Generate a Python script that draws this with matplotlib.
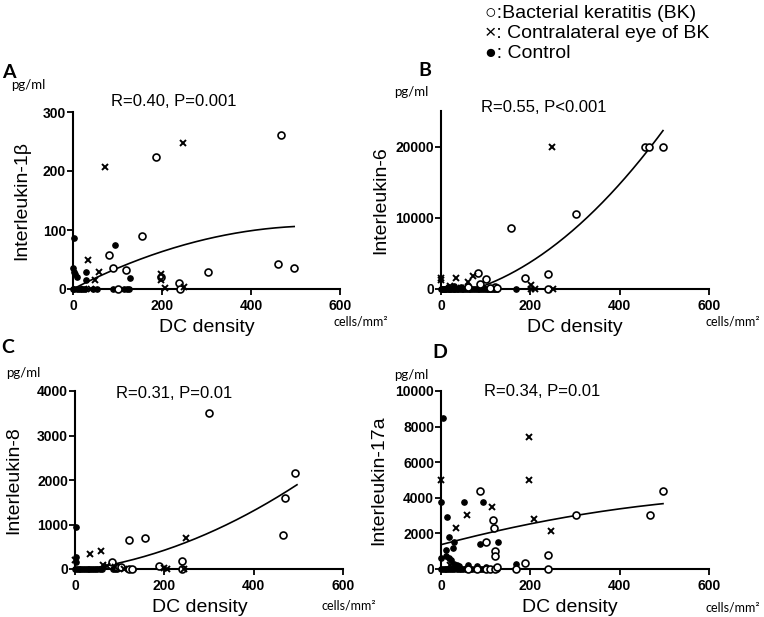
import numpy as np
import matplotlib
matplotlib.use('Agg')
import matplotlib.pyplot as plt

plt.rcParams['font.family'] = ['Liberation Sans', 'DejaVu Sans']

W, H = 764, 617

# ---------------- data ----------------
panel_letters = ['A', 'B', 'C', 'D']
ylabels = ['Interleukin-1β', 'Interleukin-6', 'Interleukin-8', 'Interleukin-17a']
stats_text = ['R=0.40, P=0.001', 'R=0.55, P<0.001', 'R=0.31, P=0.01', 'R=0.34, P=0.01']
xticks = [0, 200, 400, 600]
yticks_A = [0, 100, 200, 300]
yticks_B = [0, 10000, 20000]
yticks_C = [0, 1000, 2000, 3000, 4000]
yticks_D = [0, 2000, 4000, 6000, 8000, 10000]
ylims = [(0, 300), (0, 25000), (0, 4000), (0, 10000)]

# Panel A (IL-1beta)
bk_A_x = [467, 187, 156, 81, 89, 119, 303, 460, 497, 239, 101, 240, 197]
bk_A_y = [261, 223, 90, 58, 36, 32, 28, 43, 36, 11, 0, 0, 20]
ce_A_x = [73, 247, 34, 58, 50, 197, 197, 207, 249, 40, 25]
ce_A_y = [207, 248, 50, 29, 16, 26, 16, 2, 3, 0, 0]
ctl_A_x = [2, 94, 1, 2, 5, 29, 10, 30, 128, 0, 3, 8, 14, 18, 22, 28, 45, 55, 89, 115, 121, 125]
ctl_A_y = [86, 75, 36, 28, 25, 29, 20, 15, 19, 0, 0, 0, 0, 0, 0, 0, 0, 0, 0, 0, 0, 0]

# Panel B (IL-6)
bk_B_x = [457, 466, 497, 303, 156, 239, 187, 82, 101, 87, 239, 120, 110, 60, 125]
bk_B_y = [20000, 20000, 20000, 10540, 8620, 2100, 1540, 2200, 1400, 650, 0, 300, 200, 300, 100]
ce_B_x = [248, 0, 0, 34, 60, 71, 201, 201, 210, 250, 20, 45]
ce_B_y = [20000, 1540, 1250, 1500, 1020, 1820, 560, 0, 0, 0, 400, 200]
ctl_B_x = [0, 2, 4, 6, 8, 10, 12, 15, 18, 20, 23, 26, 29, 32, 35, 38, 42, 46, 50, 54,
           58, 62, 66, 70, 74, 78, 82, 86, 90, 94, 98, 102, 106, 110, 114, 118, 122,
           126, 168, 30, 60, 95, 15, 45]
ctl_B_y = [0, 0, 0, 0, 0, 0, 0, 0, 0, 0, 0, 0, 0, 0, 0, 0, 0, 0, 0, 0,
           0, 0, 0, 0, 0, 0, 0, 0, 0, 0, 0, 0, 0, 0, 0, 0, 0,
           0, 0, 400, 300, 200, 250, 350]

# Panel C (IL-8)
bk_C_x = [301, 492, 471, 465, 120, 157, 240, 240, 82, 187, 95, 103, 121, 128]
bk_C_y = [3505, 2157, 1595, 764, 652, 689, 187, 0, 157, 65, 45, 45, 0, 0]
ce_C_x = [249, 58, 34, 0, 63, 71, 206, 200, 245, 90, 110]
ce_C_y = [689, 411, 330, 195, 90, 60, 0, 20, 0, 50, 0]
ctl_C_x = [2, 3, 3, 0, 4, 8, 12, 16, 20, 24, 28, 32, 36, 40, 45, 50, 55, 60, 85, 90, 95, 120, 125, 130]
ctl_C_y = [950, 276, 164, 0, 0, 0, 0, 0, 0, 0, 0, 0, 0, 0, 0, 0, 0, 0, 0, 0, 0, 0, 0, 0]

# Panel D (IL-17a)
bk_D_x = [497, 467, 302, 87, 117, 119, 100, 122, 122, 188, 240, 240, 168, 60, 80, 100, 110, 120, 125]
bk_D_y = [4380, 3030, 3030, 4400, 2730, 2300, 1520, 990, 750, 360, 760, 0, 0, 0, 0, 0, 0, 0, 100]
ce_D_x = [197, 197, 0, 115, 59, 33, 208, 247, 20, 50]
ce_D_y = [7420, 5020, 5020, 3480, 3050, 2300, 2810, 2150, 200, 0]
ctl_D_x = [5, 0, 51, 95, 13, 17, 28, 26, 11, 88, 128, 0, 11, 18, 168, 22, 30, 35,
           0, 4, 8, 12, 16, 20, 25, 30, 35, 40, 45, 50, 55, 60, 65, 70, 75, 80, 85,
           90, 95, 100, 105, 110, 115, 120, 125, 168, 40, 60, 80, 100]
ctl_D_y = [8500, 3780, 3750, 3750, 2940, 1800, 1530, 1160, 1070, 1390, 1520, 590, 720, 620, 260, 500, 300, 200,
           0, 0, 0, 0, 0, 0, 0, 0, 0, 0, 0, 0, 0, 0, 0, 0, 0, 0, 0,
           0, 0, 0, 0, 0, 0, 0, 0, 0, 150, 200, 150, 100]

# quadratic regression curves (c0, c1, c2) and x range
fit_coefs = [(0.0, 0.387, -3.5e-4), (-1158.0, 9.47, 0.0757), (-39.5, 1.243, 0.005323), (1367.0, 6.66, -0.004073)]
fit_ranges = [(2, 497), (76, 497), (40, 497), (0, 497)]

# ---------------- layout ----------------
def box(l, r, t, b):
    return [l / W, 1 - b / H, (r - l) / W, (b - t) / H]

axes_px = [(73, 340, 112, 289), (441, 709, 111, 289), (75, 343, 391, 569), (441, 709, 391, 569)]
yticks_all = [yticks_A, yticks_B, yticks_C, yticks_D]
data = [
    (bk_A_x, bk_A_y, ce_A_x, ce_A_y, ctl_A_x, ctl_A_y),
    (bk_B_x, bk_B_y, ce_B_x, ce_B_y, ctl_B_x, ctl_B_y),
    (bk_C_x, bk_C_y, ce_C_x, ce_C_y, ctl_C_x, ctl_C_y),
    (bk_D_x, bk_D_y, ce_D_x, ce_D_y, ctl_D_x, ctl_D_y),
]
letter_pos = [(9, 73), (425, 70), (8, 348), (440, 352)]
pg_pos = [(28, 85), (411, 92), (23, 373), (411, 375)]
stat_pos = [(174, 102), (544, 107), (174, 393), (542, 392)]
cells_pos = [(333, 322), (706, 322), (322, 605), (705, 608)]
xlab_pos = [(207, 327), (575, 327), (200, 607), (570, 607)]
ylab_pos = [(22, 200), (381, 200), (14, 480), (379, 480)]

fig = plt.figure(figsize=(W / 100, H / 100), dpi=100)

def fx(x):
    return x / W

def fy(y):
    return 1 - y / H

for i in range(4):
    ax = fig.add_axes(box(*axes_px[i]))
    bx, by, cx, cy, kx, ky = data[i]
    ax.plot(kx, ky, 'o', ms=3.8, color='black', mec='black', clip_on=False, zorder=3)
    ax.plot(bx, by, 'o', ms=5, mfc='white', mec='black', mew=1.2, clip_on=False, zorder=4)
    ax.plot(cx, cy, 'x', ms=4.5, color='black', mew=1.4, clip_on=False, zorder=5)
    c0, c1, c2 = fit_coefs[i]
    xs = np.linspace(fit_ranges[i][0], fit_ranges[i][1], 200)
    ys = c0 + c1 * xs + c2 * xs ** 2
    ys = np.where(ys < 0, np.nan, ys)
    ax.plot(xs, ys, '-', color='black', lw=1.2, zorder=2)
    ax.set_xlim(0, 600)
    ax.set_ylim(*ylims[i])
    ax.set_xticks(xticks)
    ax.set_yticks(yticks_all[i])
    for s in ['top', 'right']:
        ax.spines[s].set_visible(False)
    for s in ['left', 'bottom']:
        ax.spines[s].set_linewidth(1.5)
        ax.spines[s].set_color('black')
    ax.tick_params(axis='both', direction='out', length=4, width=1.3, labelsize=10, colors='black')
    ax.tick_params(axis='y', pad=1)
    ax.tick_params(axis='x', pad=3)
    for lab in ax.get_xticklabels() + ax.get_yticklabels():
        lab.set_fontweight('bold')
    ax.patch.set_alpha(0)

    fig.text(fx(letter_pos[i][0]), fy(letter_pos[i][1]), panel_letters[i], fontsize=14,
             fontweight='bold', family=['Lato', 'DejaVu Sans'], ha='center', va='center')
    fig.text(fx(pg_pos[i][0]), fy(pg_pos[i][1]), 'pg/ml', fontsize=9.5,
             family=['Lato', 'DejaVu Sans'], ha='center', va='center')
    fig.text(fx(stat_pos[i][0]), fy(stat_pos[i][1]), stats_text[i], fontsize=12,
             ha='center', va='center')
    fig.text(fx(cells_pos[i][0]), fy(cells_pos[i][1]), 'cells/mm²', fontsize=9,
             family=['Lato', 'DejaVu Sans'], ha='left', va='center')
    fig.text(fx(xlab_pos[i][0]), fy(xlab_pos[i][1]), 'DC density', fontsize=14,
             ha='center', va='center')
    fig.text(fx(ylab_pos[i][0]), fy(ylab_pos[i][1]), ylabels[i], fontsize=14,
             ha='center', va='center', rotation=90)

legend_lines = ['○:Bacterial keratitis (BK)', '×: Contralateral eye of BK', '●: Control']
legend_y = [13, 33, 53]
for t, y in zip(legend_lines, legend_y):
    fig.text(fx(485), fy(y), t, fontsize=14, ha='left', va='center',
             family=['Liberation Sans', 'DejaVu Sans'])

fig.savefig('out.png', dpi=100)
